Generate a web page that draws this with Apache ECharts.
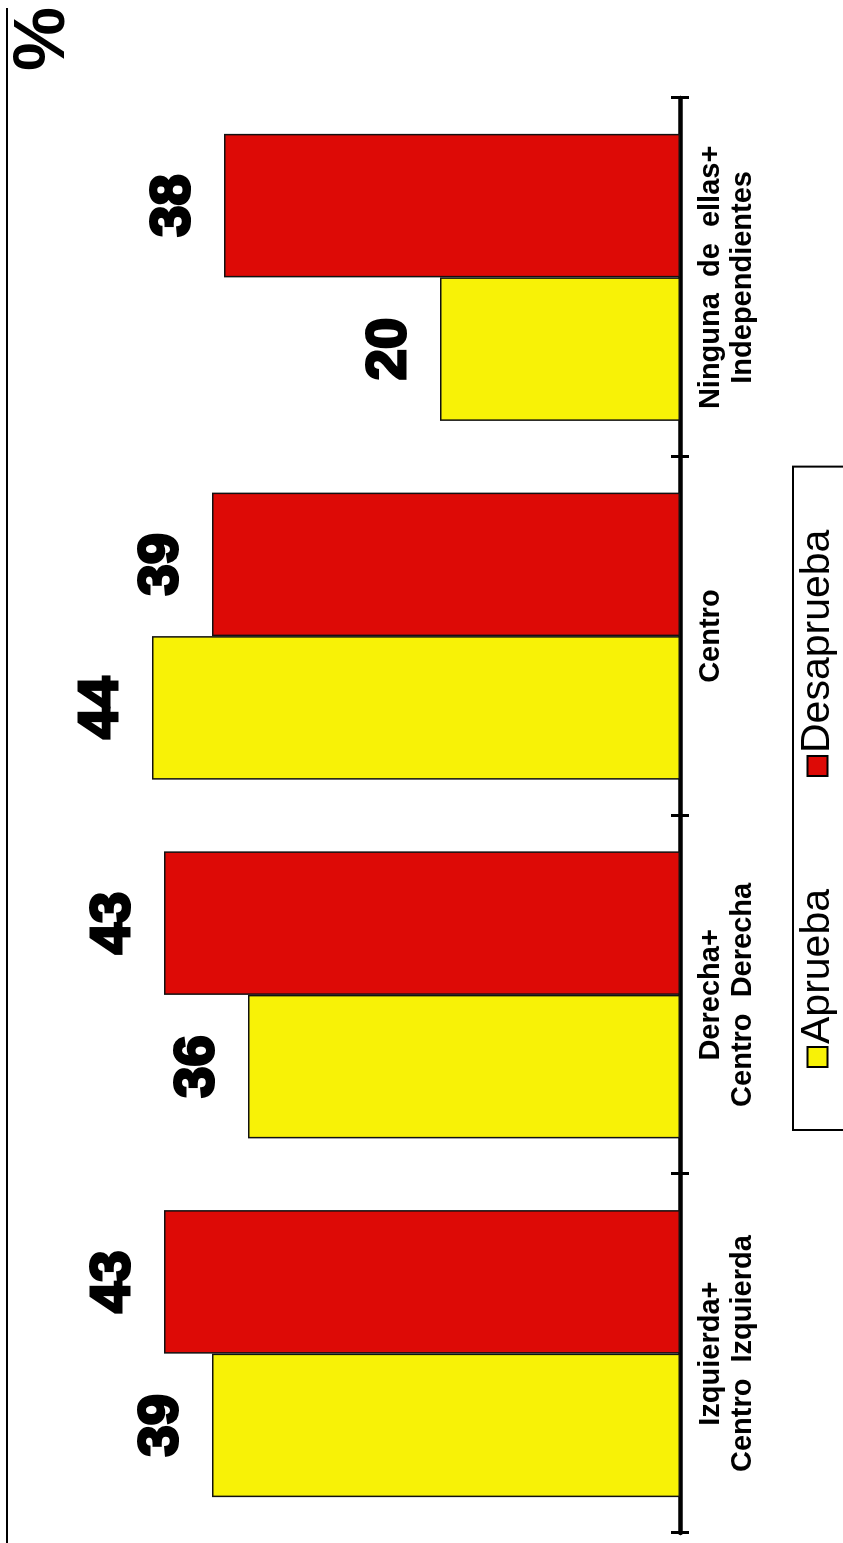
<!DOCTYPE html>
<html>
<head>
<meta charset="utf-8">
<script src="https://cdn.jsdelivr.net/npm/echarts@6/dist/echarts.min.js"></script>
<style>
html,body{margin:0;padding:0;width:843px;height:1543px;overflow:hidden;background:#fff;}
#chart{position:absolute;left:0;top:0;width:1543px;height:843px;transform-origin:0 0;transform:translate(0,1543px) rotate(-90deg);}
</style>
</head>
<body>
<div id="chart"></div>
<script>
const categories = ['Izquierda+\nCentro  Izquierda', 'Derecha+\nCentro  Derecha', 'Centro', 'Ninguna  de  ellas+\nIndependientes'];
const seriesNames = ['Aprueba', 'Desaprueba'];
const aprueba = [39, 36, 44, 20];
const desaprueba = [43, 43, 39, 38];
const unitLabel = '%';

const chart = echarts.init(document.getElementById('chart'), null, {renderer: 'canvas'});
const labelStyle = {
  show: true, position: 'top', distance: 22,
  fontFamily: 'Liberation Sans', fontWeight: 'bold', fontSize: 56,
  color: '#000', textBorderColor: '#000', textBorderWidth: 3
};
chart.setOption({
  animation: false,
  backgroundColor: '#fff',
  grid: {left: 10, right: 98, top: 8, bottom: 163, containLabel: false},
  legend: {
    left: 413, top: 793,
    padding: [4, 63, 30, 62],
    itemGap: 112,
    itemWidth: 20, itemHeight: 20,
    icon: 'rect',
    borderColor: '#000', borderWidth: 2,
    textStyle: {fontFamily: 'Liberation Sans', fontSize: 41, color: '#000', padding: [0, 0, 0, -2]},
    itemStyle: {borderColor: '#000', borderWidth: 2},
    data: seriesNames
  },
  xAxis: [{
    type: 'category', data: categories, position: 'bottom', offset: 0,
    axisLine: {show: true, lineStyle: {color: '#000', width: 4.5}},
    axisTick: {show: true, length: 9, lineStyle: {color: '#000', width: 3}},
    axisLabel: {margin: 15, fontFamily: 'Liberation Sans', fontWeight: 'bold', fontSize: 29, lineHeight: 32, color: '#000', interval: 0, verticalAlign: 'top'}
  }, {
    type: 'category', data: categories, position: 'bottom', offset: 0,
    axisLine: {show: false},
    axisTick: {show: true, inside: true, length: 9, lineStyle: {color: '#000', width: 3}},
    axisLabel: {show: false}
  }],
  yAxis: {type: 'value', min: 0, max: 56, show: false, splitLine: {show: false}},
  graphic: [
    {type: 'line', shape: {x1: 0, y1: 7, x2: 1535, y2: 7}, style: {stroke: '#000', lineWidth: 2}},
    {type: 'text', left: 1472, top: 8, style: {text: unitLabel, fontFamily: 'Liberation Sans', fontWeight: 'bold', fontSize: 72, fill: '#000'}}
  ],
  series: [{
    name: seriesNames[0], type: 'bar', data: aprueba,
    barGap: '0%', barCategoryGap: '20%',
    itemStyle: {color: '#F8F206', borderColor: '#111', borderWidth: 1.5},
    label: labelStyle
  }, {
    name: seriesNames[1], type: 'bar', data: desaprueba,
    barGap: '0%', barCategoryGap: '20%',
    itemStyle: {color: '#DD0A06', borderColor: '#111', borderWidth: 1.5},
    label: labelStyle
  }]
});
</script>
</body>
</html>
